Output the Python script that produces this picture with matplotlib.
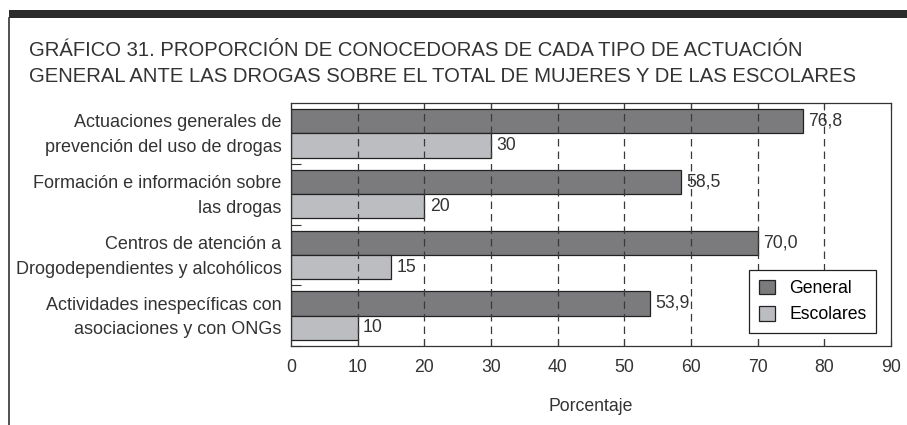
import matplotlib
matplotlib.use("Agg")
import matplotlib.pyplot as plt
from matplotlib.patches import Rectangle
from matplotlib.lines import Line2D
import numpy as np

categories = ["Actuaciones generales de\nprevención del uso de drogas",
              "Formación e información sobre\nlas drogas",
              "Centros de atención a\nDrogodependientes y alcohólicos",
              "Actividades inespecíficas con\nasociaciones y con ONGs"]
general = [76.8, 58.5, 70.0, 53.9]
escolares = [30, 20, 15, 10]
general_labels = ["76,8", "58,5", "70,0", "53,9"]
escolares_labels = ["30", "20", "15", "10"]
xticks = [0, 10, 20, 30, 40, 50, 60, 70, 80, 90]
title_lines = ["GRÁFICO 31. PROPORCIÓN DE CONOCEDORAS DE CADA TIPO DE ACTUACIÓN",
               "GENERAL ANTE LAS DROGAS SOBRE EL TOTAL DE MUJERES Y DE LAS ESCOLARES"]

plt.rcParams['font.family'] = ['Liberation Sans', 'DejaVu Sans']

W, H = 907, 425
fig = plt.figure(figsize=(W/100, H/100), dpi=100)
txt = "#333333"

# decorative frame: top band and left line
fig.add_artist(Rectangle((9/W, 1 - 18/H), 1 - 9/W, 8/H, transform=fig.transFigure,
                         facecolor="#2b2b2b", edgecolor="none"))
fig.add_artist(Line2D([9/W, 9/W], [0, 1 - 18/H], transform=fig.transFigure,
                      color="#333333", lw=1.2))

for k, (line, base) in enumerate(zip(title_lines, [56, 82])):
    fig.text(29/W, 1 - base/H, line, ha="left", va="baseline", fontsize=14.55,
             color=txt)

ax = fig.add_axes([291/W, 1 - 346/H, 600/W, 243/H])

y = np.arange(len(categories))
bh = 0.4
c_gen = "#7b7b7e"
c_esc = "#bcbdc0"
ax.barh(y - bh/2, general, height=bh, color=c_gen, edgecolor="#222222", lw=0.9,
        label="General", zorder=2)
ax.barh(y + bh/2, escolares, height=bh, color=c_esc, edgecolor="#222222", lw=0.9,
        label="Escolares", zorder=2)

for i in range(len(categories)):
    ax.text(general[i] + 0.8, y[i] - bh/2, general_labels[i], va="center", ha="left",
            fontsize=12.7, color=txt, zorder=4)
    ax.text(escolares[i] + 0.8, y[i] + bh/2, escolares_labels[i], va="center", ha="left",
            fontsize=12.7, color=txt, zorder=4)

ax.set_xlim(0, 90)
ax.set_ylim(3.5, -0.5)
ax.set_xticks(xticks)
ax.set_xticklabels([str(t) for t in xticks], fontsize=12.7, color=txt)
ax.tick_params(axis="x", direction="in", length=5, width=0.8, color="#333333",
               top=True, pad=9)

# y ticks at category boundaries
ax.set_yticks([0.5, 1.5, 2.5, 3.5])
ax.set_yticklabels([])
ax.tick_params(axis="y", direction="in", length=7.5, width=0.8, color="#333333")
for i, c in enumerate(categories):
    ax.text(-0.016, y[i] + 0.03, c, transform=ax.get_yaxis_transform(), ha="right",
            va="center", fontsize=13, color=txt, linespacing=1.6)

for t in xticks[1:-1]:
    ax.axvline(t, color="#3a3a3a", lw=0.9, ls=(0, (6, 4)), zorder=3)

for s in ax.spines.values():
    s.set_color("#333333")
    s.set_linewidth(0.9)

ax.set_xlabel("Porcentaje", fontsize=12.7, color=txt, labelpad=16)

leg = ax.legend(loc="lower right", bbox_to_anchor=((876 - 291)/600, (346 - 333)/243),
                borderaxespad=0, fontsize=12.7, frameon=True, fancybox=False,
                edgecolor="#222222", handlelength=0.9, handleheight=0.9,
                handletextpad=0.8, borderpad=0.55, labelspacing=0.5, framealpha=1)
leg.get_frame().set_linewidth(0.9)
leg.set_zorder(5)

fig.savefig("out.png", dpi=100)
